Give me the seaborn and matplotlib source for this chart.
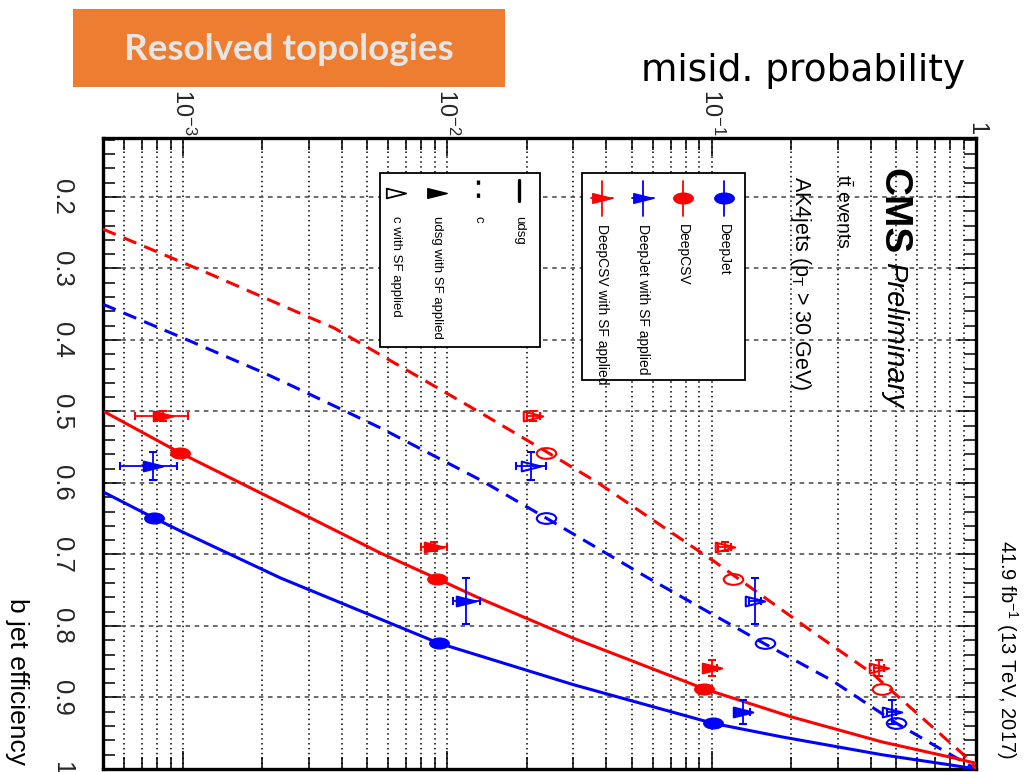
import numpy as np
import pandas as pd
import matplotlib
matplotlib.use("Agg")
import matplotlib.pyplot as plt
import seaborn as sns
from matplotlib.path import Path
from matplotlib.transforms import Affine2D
from matplotlib.patches import Rectangle
from matplotlib.ticker import FixedLocator, MultipleLocator, LogLocator, NullFormatter

# ---------------- data (misid probability vs b jet efficiency) ----------------
deepjet_udsg_misid = [5.1e-4, 7.8e-4, 9.8e-4, 2.35e-3, 9.3e-3, 0.030, 0.101, 0.184, 0.44, 0.79, 1.0]
deepjet_udsg_eff   = [0.614, 0.649, 0.667, 0.733, 0.824, 0.882, 0.936, 0.955, 0.980, 0.994, 1.0]
deepcsv_udsg_misid = [5.1e-4, 9.8e-4, 2.35e-3, 5.6e-3, 9.2e-3, 0.0134, 0.030, 0.094, 0.20, 0.44, 0.79, 1.0]
deepcsv_udsg_eff   = [0.501, 0.558, 0.628, 0.698, 0.734, 0.762, 0.817, 0.888, 0.927, 0.962, 0.983, 0.992]
deepjet_c_misid = [5.0e-4, 1.0e-3, 2.03e-3, 2.8e-3, 5.6e-3, 0.0134, 0.0237, 0.0577, 0.159, 0.285, 0.50, 0.743, 1.0]
deepjet_c_eff   = [0.350, 0.397, 0.446, 0.470, 0.523, 0.596, 0.649, 0.733, 0.825, 0.876, 0.936, 0.973, 1.0]
deepcsv_c_misid = [5.0e-4, 1.22e-3, 3.0e-3, 3.73e-3, 0.0143, 0.0237, 0.0373, 0.1026, 0.245, 0.404, 0.885, 1.0]
deepcsv_c_eff   = [0.245, 0.305, 0.368, 0.383, 0.508, 0.556, 0.600, 0.710, 0.810, 0.866, 0.978, 1.0]

# working points (MC)
wp_deepjet_udsg_misid = [7.8e-4, 9.3e-3, 0.101]
wp_deepjet_eff        = [0.649, 0.824, 0.936]
wp_deepcsv_udsg_misid = [9.8e-4, 9.2e-3, 0.094]
wp_deepcsv_eff        = [0.558, 0.734, 0.888]
wp_deepjet_c_misid    = [0.0237, 0.159, 0.50]
wp_deepcsv_c_misid    = [0.0237, 0.121, 0.44]

# working points with SF applied
sf_deepjet_eff         = [0.576, 0.765, 0.920]
sf_deepjet_eff_err     = [0.020, 0.032, 0.017]
sf_deepjet_udsg_misid  = [7.7e-4, 0.0118, 0.132]
sf_deepjet_udsg_lo     = [5.8e-4, 0.0105, 0.124]
sf_deepjet_udsg_hi     = [9.5e-4, 0.0133, 0.140]
sf_deepjet_c_misid     = [0.0208, 0.146, 0.48]
sf_deepjet_c_lo        = [0.0182, 0.138, 0.46]
sf_deepjet_c_hi        = [0.0237, 0.154, 0.50]

sf_deepcsv_eff         = [0.506, 0.689, 0.859]
sf_deepcsv_eff_err     = [0.007, 0.006, 0.011]
sf_deepcsv_udsg_misid  = [8.4e-4, 8.9e-3, 0.100]
sf_deepcsv_udsg_lo     = [6.6e-4, 8.0e-3, 0.096]
sf_deepcsv_udsg_hi     = [1.05e-3, 1.0e-2, 0.105]
sf_deepcsv_c_misid     = [0.0212, 0.112, 0.43]
sf_deepcsv_c_lo        = [0.0200, 0.106, 0.41]
sf_deepcsv_c_hi        = [0.0225, 0.118, 0.45]

x_ticks = [1e-3, 1e-2, 1e-1, 1.0]
x_tick_labels = [r"$10^{-3}$", r"$10^{-2}$", r"$10^{-1}$", "1"]
y_ticks = [0.2, 0.3, 0.4, 0.5, 0.6, 0.7, 0.8, 0.9, 1.0]
y_tick_labels = ["0.2", "0.3", "0.4", "0.5", "0.6", "0.7", "0.8", "0.9", "1"]

legend1_labels = ["DeepJet", "DeepCSV", "DeepJet with SF applied", "DeepCSV with SF applied"]
legend2_labels = ["udsg", "c", "udsg with SF applied", "c with SF applied"]

# ---------------- style ----------------
sns.set_theme(style="white")
SANS = "Liberation Sans"
plt.rcParams["font.family"] = [SANS, "DejaVu Sans"]
plt.rcParams["mathtext.fontset"] = "custom"
plt.rcParams["mathtext.rm"] = SANS
plt.rcParams["mathtext.it"] = SANS + ":italic"
plt.rcParams["mathtext.bf"] = SANS + ":bold"
plt.rcParams["mathtext.sf"] = SANS

BLUE = "#0000FF"
RED = "#FF0000"
W, H = 1035, 772

def fx(px):
    return px / W

def fy(py):
    return 1 - py / H

ellipse = Path.unit_circle().transformed(Affine2D().scale(1.0, 0.55))
tri_right = Path([(-1, -0.5), (1, 0), (-1, 0.5), (-1, -0.5)],
                 [Path.MOVETO, Path.LINETO, Path.LINETO, Path.CLOSEPOLY])

fig = plt.figure(figsize=(W / 100, H / 100), dpi=100)
fig.patch.set_facecolor("white")
ax = fig.add_axes([fx(103), fy(769), fx(976) - fx(103), fy(138) - fy(769)])
ax.set_xscale("log")

# ---------------- curves ----------------
rows = []
for tagger, flav, xs, ys in [
    ("DeepJet", "udsg", deepjet_udsg_misid, deepjet_udsg_eff),
    ("DeepCSV", "udsg", deepcsv_udsg_misid, deepcsv_udsg_eff),
    ("DeepJet", "c", deepjet_c_misid, deepjet_c_eff),
    ("DeepCSV", "c", deepcsv_c_misid, deepcsv_c_eff),
]:
    for xv, yv in zip(xs, ys):
        rows.append({"tagger": tagger, "flavour": flav, "misid": xv, "eff": yv})
df = pd.DataFrame(rows)
sns.lineplot(data=df, x="misid", y="eff", hue="tagger", style="flavour",
             palette={"DeepJet": BLUE, "DeepCSV": RED},
             dashes={"udsg": "", "c": (4.5, 2.8)},
             estimator=None, sort=False, linewidth=2.2, legend=False, ax=ax, zorder=3)

# ---------------- markers ----------------
ms = 14
ax.plot(wp_deepjet_udsg_misid, wp_deepjet_eff, ls="none", marker=ellipse, ms=ms, color=BLUE, zorder=4)
ax.plot(wp_deepcsv_udsg_misid, wp_deepcsv_eff, ls="none", marker=ellipse, ms=ms, color=RED, zorder=4)
ax.plot(wp_deepjet_c_misid, wp_deepjet_eff, ls="none", marker=ellipse, ms=ms, mfc="none", mec=BLUE, mew=1.5, zorder=4)
ax.plot(wp_deepcsv_c_misid, wp_deepcsv_eff, ls="none", marker=ellipse, ms=ms, mfc="none", mec=RED, mew=1.5, zorder=4)

def sf_points(xs, lo, hi, ys, yerr, color, filled):
    xs = np.array(xs); lo = np.array(lo); hi = np.array(hi)
    ax.errorbar(xs, ys, xerr=[xs - lo, hi - xs], yerr=yerr, ls="none",
                ecolor=color, elinewidth=1.3, capsize=3, capthick=1.3,
                marker=tri_right, ms=ms, mfc=color if filled else "none",
                mec=color, mew=1.5, zorder=4)

sf_points(sf_deepjet_udsg_misid, sf_deepjet_udsg_lo, sf_deepjet_udsg_hi, sf_deepjet_eff, sf_deepjet_eff_err, BLUE, True)
sf_points(sf_deepcsv_udsg_misid, sf_deepcsv_udsg_lo, sf_deepcsv_udsg_hi, sf_deepcsv_eff, sf_deepcsv_eff_err, RED, True)
sf_points(sf_deepjet_c_misid, sf_deepjet_c_lo, sf_deepjet_c_hi, sf_deepjet_eff, sf_deepjet_eff_err, BLUE, False)
sf_points(sf_deepcsv_c_misid, sf_deepcsv_c_lo, sf_deepcsv_c_hi, sf_deepcsv_eff, sf_deepcsv_eff_err, RED, False)

# ---------------- axes ----------------
ax.set_xlim(5e-4, 1.0)
ax.set_ylim(1.0, 0.1175)
ax.set_xlabel("")
ax.set_ylabel("")
ax.xaxis.set_major_locator(FixedLocator(x_ticks))
ax.xaxis.set_minor_locator(LogLocator(base=10, subs=np.arange(2, 10), numticks=50))
ax.xaxis.set_minor_formatter(NullFormatter())
ax.set_xticks(x_ticks, x_tick_labels, rotation=-90, fontsize=17)
ax.yaxis.set_minor_locator(MultipleLocator(0.02))
ax.set_yticks(y_ticks, y_tick_labels, rotation=-90, fontsize=18.5, va="center")

ax.tick_params(axis="x", which="both", direction="in", top=True, bottom=True,
               labeltop=True, labelbottom=False, color="black", width=1.1, pad=2)
ax.tick_params(axis="y", which="both", direction="in", left=True, right=True,
               labelleft=True, labelright=False, color="black", width=1.1, pad=21)
ax.tick_params(which="major", length=13)
ax.tick_params(which="minor", length=8.5)

ax.xaxis.grid(True, which="both", color="black", linestyle=(0, (1, 2.2)), linewidth=1.1)
ax.yaxis.grid(True, which="major", color="#444444", linestyle=(0, (3, 3)), linewidth=1.1)
ax.yaxis.grid(False, which="minor")
ax.set_axisbelow(True)
for sp in ax.spines.values():
    sp.set_color("black")
    sp.set_linewidth(2.4)
ax.set_facecolor("white")

# ---------------- legends (drawn manually, rotated) ----------------
def axfx(px):
    return (px - 103) / 873

def axfy(py):
    return (769 - py) / 631

# legend 1
ax.add_patch(Rectangle((axfx(582), axfy(380)), axfx(745) - axfx(582), axfy(173) - axfy(380),
                       transform=ax.transAxes, facecolor="white", edgecolor="black", lw=1.3, zorder=8))
l1_x = [724, 683, 643, 602]
l1_col = [BLUE, RED, BLUE, RED]
l1_mk = [ellipse, ellipse, tri_right, tri_right]
for px, col, mk, lab in zip(l1_x, l1_col, l1_mk, legend1_labels):
    ax.plot([axfx(px), axfx(px)], [axfy(181), axfy(216)], color=col, lw=1.3, transform=ax.transAxes, zorder=9)
    if mk is tri_right:
        ax.plot([axfx(px - 11), axfx(px + 11)], [axfy(198), axfy(198)], color=col, lw=1.3,
                transform=ax.transAxes, zorder=9)
    ax.plot([axfx(px)], [axfy(198)], marker=mk, ms=ms, color=col, ls="none", transform=ax.transAxes, zorder=10)
    ax.text(axfx(px), axfy(224), lab, rotation=-90, ha="center", va="top", fontsize=10,
            color="black", transform=ax.transAxes, zorder=10)

# legend 2
ax.add_patch(Rectangle((axfx(380), axfy(347)), axfx(540) - axfx(380), axfy(173) - axfy(347),
                       transform=ax.transAxes, facecolor="white", edgecolor="black", lw=1.3, zorder=8))
ax.plot([axfx(519), axfx(519)], [axfy(180), axfy(201)], color="black", lw=2.4, transform=ax.transAxes, zorder=9)
ax.plot([axfx(478), axfx(478)], [axfy(180), axfy(204)], color="black", lw=2.4, ls=(0, (1.3, 2.6)),
        transform=ax.transAxes, zorder=9)
ax.plot([axfx(437)], [axfy(193)], marker=tri_right, ms=ms, color="black", ls="none",
        transform=ax.transAxes, zorder=9)
ax.plot([axfx(396)], [axfy(193)], marker=tri_right, ms=ms, mfc="none", mec="black", mew=1.3, ls="none",
        transform=ax.transAxes, zorder=9)
for px, lab in zip([519, 478, 437, 396], legend2_labels):
    ax.text(axfx(px), axfy(216), lab, rotation=-90, ha="center", va="top", fontsize=9.5,
            color="black", transform=ax.transAxes, zorder=10)

# ---------------- texts ----------------
fig.text(fx(893), fy(168), "CMS", rotation=-90, ha="center", va="top", fontsize=28,
         fontweight="bold", color="black")
fig.text(fx(894), fy(262), "Preliminary", rotation=-90, ha="center", va="top", fontsize=21,
         fontstyle="italic", color="black")
fig.text(fx(843), fy(174), r"t$\bar{\mathrm{t}}$ events", rotation=-90, ha="center", va="top",
         fontsize=14, color="black")
fig.text(fx(801), fy(176), r"AK4jets (p$_{\mathrm{T}}$ > 30 GeV)", rotation=-90, ha="center", va="top",
         fontsize=15.5, color="black")
fig.text(fx(1007), fy(540), r"41.9 fb$^{-1}$ (13 TeV, 2017)", rotation=-90, ha="center", va="top",
         fontsize=14.5, color="black")
fig.text(fx(17), fy(598), "b jet efficiency", rotation=-90, ha="center", va="top",
         fontsize=19, color="black")
fig.text(fx(803), fy(71), "misid. probability", ha="center", va="center",
         fontsize=27, color="black", family="DejaVu Sans")

# title box
fig.patches.append(Rectangle((fx(73), fy(87)), fx(505) - fx(73), fy(9) - fy(87),
                             transform=fig.transFigure, facecolor="#ED7D31", edgecolor="none", zorder=0))
fig.text(fx(289), fy(49), "Resolved topologies", ha="center", va="center", fontsize=26.5,
         fontweight="bold", color="#E7E6E6", family="Lato")

fig.savefig("out.png", dpi=100, facecolor="white")
